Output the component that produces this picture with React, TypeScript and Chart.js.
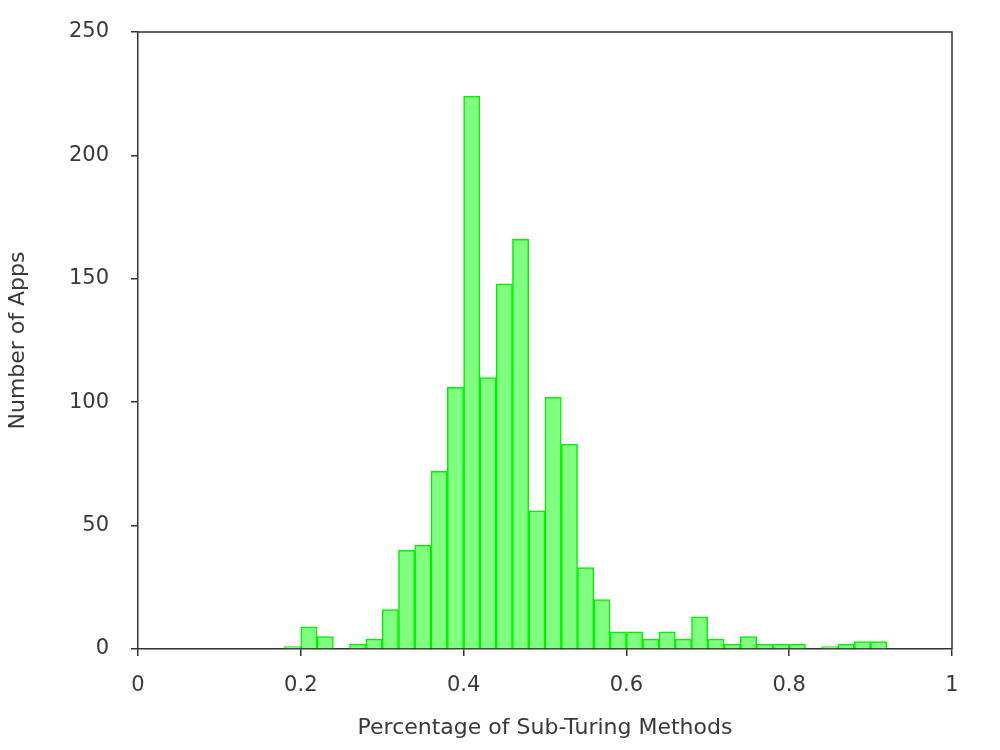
import React, { useEffect, useRef } from "react";
import { Chart, registerables } from "chart.js";

Chart.register(...registerables);

// Histogram bins (bin centres, width 0.02) and app counts
const BIN_CENTERS = [
  0.19, 0.21, 0.23, 0.25, 0.27, 0.29, 0.31, 0.33, 0.35, 0.37,
  0.39, 0.41, 0.43, 0.45, 0.47, 0.49, 0.51, 0.53, 0.55, 0.57,
  0.59, 0.61, 0.63, 0.65, 0.67, 0.69, 0.71, 0.73, 0.75, 0.77,
  0.79, 0.81, 0.83, 0.85, 0.87, 0.89, 0.91,
];
const COUNTS = [
  1, 9, 5, 0, 2, 4, 16, 40, 42, 72,
  106, 224, 110, 148, 166, 56, 102, 83, 33, 20,
  7, 7, 4, 7, 4, 13, 4, 2, 5, 2,
  2, 2, 0, 1, 2, 3, 3,
];
const X_TICKS = [0, 0.2, 0.4, 0.6, 0.8, 1];
const Y_TICKS = [0, 50, 100, 150, 200, 250];
const X_TITLE = "Percentage of Sub-Turing Methods";
const Y_TITLE = "Number of Apps";

const AXIS_COLOR = "#333333";
const TEXT_COLOR = "#383838";
const FONT = "DejaVu Sans";

const framePlugin = {
  id: "frame",
  afterDraw(chart: any) {
    const { ctx, chartArea } = chart;
    const { left, right, top, bottom } = chartArea;
    ctx.save();
    ctx.strokeStyle = AXIS_COLOR;
    ctx.lineWidth = 1.5;
    ctx.beginPath();
    ctx.moveTo(left, top);
    ctx.lineTo(right, top);
    ctx.lineTo(right, bottom);
    ctx.stroke();
    ctx.restore();
  },
};

export default function App() {
  const ref = useRef<HTMLCanvasElement | null>(null);

  useEffect(() => {
    if (!ref.current) return;
    const data = BIN_CENTERS.map((x, i) => ({ x, y: COUNTS[i] }));
    const chart = new Chart(ref.current, {
      type: "bar",
      data: {
        datasets: [
          {
            data: data as any,
            backgroundColor: "#80ff80",
            borderColor: "#00f000",
            borderWidth: 1.5,
            barPercentage: 1,
            categoryPercentage: 1,
          },
        ],
      },
      plugins: [framePlugin],
      options: {
        animation: false,
        responsive: false,
        maintainAspectRatio: false,
        layout: { padding: { top: 32, right: 48, left: 0, bottom: 0 } },
        plugins: {
          legend: { display: false },
          tooltip: { enabled: false },
        },
        scales: {
          x: {
            type: "linear",
            min: 0,
            max: 1,
            offset: false,
            grid: {
              offset: false,
              drawOnChartArea: false,
              drawTicks: true,
              tickLength: 7,
              color: AXIS_COLOR,
              lineWidth: 1.5,
            },
            border: { display: true, color: AXIS_COLOR, width: 1.5 },
            afterBuildTicks: (s: any) => {
              s.ticks = X_TICKS.map((v) => ({ value: v }));
            },
            afterFit: (s: any) => {
              s.height = 101;
              s.paddingLeft = 0;
              s.paddingRight = 0;
            },
            ticks: {
              padding: 17,
              color: TEXT_COLOR,
              font: { family: FONT, size: 21 },
              maxRotation: 0,
              autoSkip: false,
              callback: (v: any) => String(parseFloat(Number(v).toFixed(2))),
            },
            title: {
              display: true,
              text: X_TITLE,
              color: TEXT_COLOR,
              font: { family: FONT, size: 22 },
              padding: { top: 0, bottom: 9 },
            },
          },
          y: {
            type: "linear",
            min: 0,
            max: 250,
            grid: {
              drawOnChartArea: false,
              drawTicks: true,
              tickLength: 7,
              color: AXIS_COLOR,
              lineWidth: 1.5,
            },
            border: { display: true, color: AXIS_COLOR, width: 1.5 },
            afterBuildTicks: (s: any) => {
              s.ticks = Y_TICKS.map((v) => ({ value: v }));
            },
            afterFit: (s: any) => {
              s.width = 138;
              s.paddingTop = 0;
              s.paddingBottom = 0;
            },
            ticks: {
              padding: 22,
              color: TEXT_COLOR,
              font: { family: FONT, size: 21 },
              autoSkip: false,
            },
            title: {
              display: true,
              text: Y_TITLE,
              color: TEXT_COLOR,
              font: { family: FONT, size: 22 },
              padding: { top: 5.5, bottom: 0 },
            },
          },
        },
      },
    });
    return () => chart.destroy();
  }, []);

  return (
    <div style={{ position: "absolute", left: 0, top: 0, width: 1000, height: 750, background: "#fff" }}>
      <canvas ref={ref} width={1000} height={750} style={{ width: 1000, height: 750, display: "block" }} />
    </div>
  );
}
